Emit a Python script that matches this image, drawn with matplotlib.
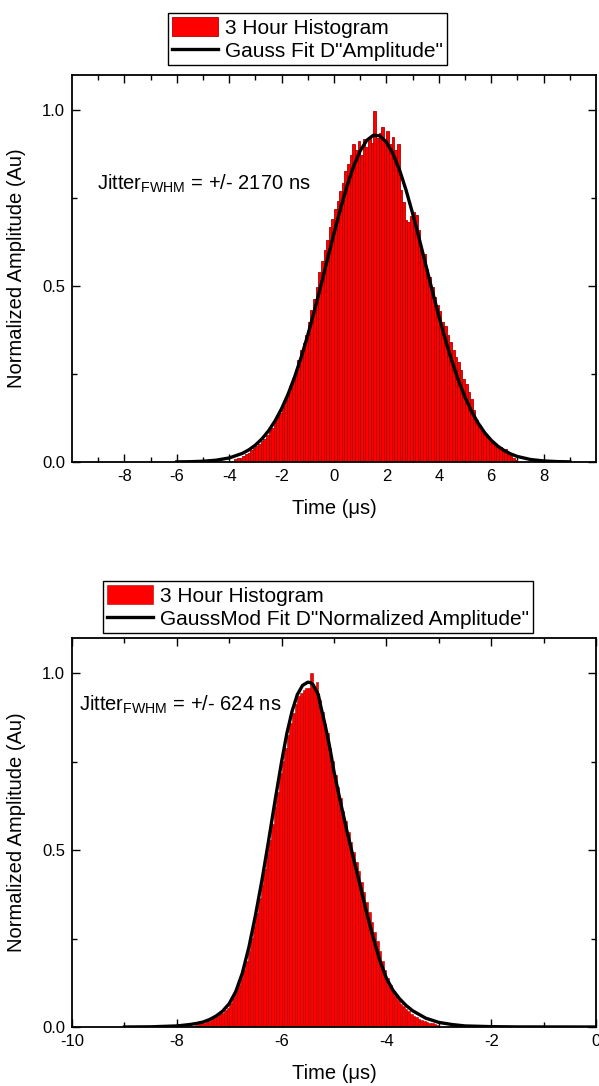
import matplotlib
matplotlib.use('Agg')
import matplotlib.pyplot as plt
import numpy as np

plt.rcParams['font.family'] = ['Liberation Sans', 'DejaVu Sans']
plt.rcParams['mathtext.fontset'] = 'custom'
plt.rcParams['mathtext.rm'] = 'Liberation Sans'
plt.rcParams['mathtext.it'] = 'Liberation Sans'
plt.rcParams['axes.unicode_minus'] = False

# ---- top panel: 3 hour histogram, 0.1 us bins from -3.8 to 7.0 us
top_bin_width = 0.1
top_bin_start = -3.8
top_counts = [
    0.008, 0.012, 0.010, 0.018, 0.022, 0.026, 0.035, 0.041, 0.046, 0.052,
    0.060, 0.066, 0.078, 0.090, 0.098, 0.112, 0.128, 0.138, 0.161, 0.176,
    0.196, 0.215, 0.238, 0.262, 0.290, 0.318, 0.338, 0.362, 0.398, 0.432,
    0.462, 0.498, 0.540, 0.572, 0.603, 0.632, 0.668, 0.690, 0.720, 0.742,
    0.770, 0.792, 0.826, 0.848, 0.872, 0.905, 0.886, 0.912, 0.874, 0.918,
    0.896, 0.925, 0.908, 0.998, 0.922, 0.935, 0.951, 0.918, 0.940, 0.905,
    0.925, 0.888, 0.905, 0.772, 0.738, 0.688, 0.682, 0.700, 0.712, 0.702,
    0.660, 0.602, 0.590, 0.548, 0.525, 0.498, 0.470, 0.445, 0.428, 0.398,
    0.386, 0.362, 0.340, 0.318, 0.298, 0.284, 0.262, 0.235, 0.222, 0.200,
    0.178, 0.148, 0.120, 0.104, 0.092, 0.082, 0.074, 0.066, 0.058, 0.050,
    0.046, 0.042, 0.036, 0.038, 0.022, 0.016, 0.010, 0.006,
]
# gauss fit curve
top_fit_x = [-6.0, -5.5, -5.0, -4.5, -4.0, -3.5, -3.25, -3.0, -2.75, -2.5, -2.25,
             -2.0, -1.75, -1.5, -1.25, -1.0, -0.75, -0.5, -0.25, 0.0, 0.25,
             0.5, 0.75, 1.0, 1.25, 1.5, 1.75, 2.0, 2.25, 2.5, 2.75, 3.0, 3.25,
             3.5, 3.75, 4.0, 4.25, 4.5, 4.75, 5.0, 5.25, 5.5, 5.75, 6.0, 6.25,
             6.5, 6.75, 7.0, 7.5, 8.0, 8.5, 9.0]
top_fit_y = [0.0003, 0.0008, 0.0021, 0.0051, 0.0115, 0.0244, 0.0345, 0.0481, 0.0658, 0.0884, 0.1168,
             0.1516, 0.1933, 0.2423, 0.2983, 0.3610, 0.4293, 0.5016, 0.5760, 0.6500, 0.7207,
             0.7853, 0.8406, 0.8843, 0.9142, 0.9287, 0.9271, 0.9093, 0.8765, 0.8303, 0.7729, 0.7068, 0.6354,
             0.5611, 0.4869, 0.4153, 0.3480, 0.2865, 0.2319, 0.1844, 0.1441, 0.1107, 0.0835, 0.0619, 0.0451,
             0.0323, 0.0227, 0.0157, 0.0071, 0.0030, 0.0012, 0.0004]

# ---- bottom panel: 0.05 us bins from -7.7 to -3.0 us
bot_bin_width = 0.05
bot_bin_start = -7.7
bot_counts = [
    0.004, 0.006, 0.009, 0.010, 0.012, 0.016, 0.018, 0.022, 0.026, 0.030,
    0.036, 0.040, 0.048, 0.055, 0.068, 0.082, 0.098, 0.118, 0.135, 0.160,
    0.188, 0.215, 0.252, 0.285, 0.322, 0.365, 0.402, 0.446, 0.488, 0.530,
    0.575, 0.622, 0.665, 0.718, 0.752, 0.790, 0.826, 0.860, 0.888, 0.912,
    0.935, 0.945, 0.952, 0.960, 0.960, 1.000, 0.955, 0.975, 0.925, 0.892,
    0.858, 0.830, 0.790, 0.752, 0.712, 0.680, 0.648, 0.612, 0.582, 0.552,
    0.522, 0.496, 0.466, 0.440, 0.410, 0.382, 0.354, 0.326, 0.298, 0.270,
    0.244, 0.216, 0.188, 0.162, 0.138, 0.118, 0.100, 0.088, 0.076, 0.066,
    0.058, 0.050, 0.044, 0.038, 0.032, 0.028, 0.024, 0.020, 0.017, 0.014,
    0.012, 0.010, 0.008, 0.006,
]
bot_fit_x = [-9.0, -8.5, -8.0, -7.75, -7.625, -7.5, -7.375, -7.25, -7.125, -7.0,
             -6.875, -6.75, -6.625, -6.5, -6.375, -6.25, -6.125, -6.0, -5.9,
             -5.8, -5.7, -5.6, -5.5, -5.45, -5.4, -5.3, -5.25, -5.175, -5.1,
             -5.05, -5.0, -4.875, -4.75, -4.625, -4.5, -4.375, -4.25, -4.125,
             -4.0, -3.875, -3.75, -3.625, -3.5, -3.25, -3.0, -2.75, -2.5,
             -2.0, -1.5, 0.0]
bot_fit_y = [0.0, 0.0005, 0.003, 0.007, 0.010, 0.014, 0.021, 0.031, 0.045, 0.066,
             0.100, 0.152, 0.225, 0.315, 0.415, 0.525, 0.640, 0.750, 0.830,
             0.893, 0.940, 0.966, 0.975, 0.974, 0.968, 0.940, 0.905, 0.858, 0.805,
             0.765, 0.722, 0.635, 0.552, 0.475, 0.400, 0.322, 0.252, 0.188,
             0.138, 0.104, 0.080, 0.061, 0.046, 0.025, 0.013, 0.007, 0.003,
             0.001, 0.0002, 0.0]

bar_face = '#ff0000'
bar_edge = '#b00000'

fig = plt.figure(figsize=(5.99, 10.86), dpi=100)
ax1 = fig.add_axes([72/599, 1 - 462/1086, 524/599, 387/1086])
ax2 = fig.add_axes([72/599, 1 - 1027/1086, 524/599, 389/1086])


def style_axes(ax, xlim):
    ax.set_xlim(*xlim)
    ax.set_ylim(0, 1.1)
    ax.set_yticks([0.0, 0.5, 1.0])
    ax.set_yticks([0.25, 0.75], minor=True)
    ax.set_yticklabels(['0.0', '0.5', '1.0'])
    ax.tick_params(which='both', direction='in', top=True, right=True,
                   labelsize=12, width=1.0, pad=5)
    ax.tick_params(which='major', length=6)
    ax.tick_params(which='minor', length=3.5)
    for s in ax.spines.values():
        s.set_linewidth(1.3)
    ax.set_xlabel('Time (\u03bcs)', fontsize=14.5)
    ax.set_ylabel('Normalized Amplitude (Au)', fontsize=14.5)
    ax.xaxis.set_label_coords(0.5, -0.095)
    ax.yaxis.set_label_coords(-0.088, 0.5)


def add_legend(ax, anchor):
    h, l = ax.get_legend_handles_labels()
    order = [1, 0]  # histogram first
    fig.legend([h[i] for i in order], [l[i] for i in order], loc='upper left',
               bbox_to_anchor=anchor, fontsize=15,
               frameon=True, fancybox=False, edgecolor='black', framealpha=1,
               borderpad=0.2, labelspacing=0.12, handlelength=2.2,
               handleheight=1.05, handletextpad=0.35, borderaxespad=0)


# top
top_centers = top_bin_start + top_bin_width * (np.arange(len(top_counts)) + 0.5)
ax1.bar(top_centers, top_counts, width=top_bin_width, color=bar_face,
        edgecolor=bar_edge, linewidth=0.6, label='3 Hour Histogram', zorder=2)
ax1.plot(top_fit_x, top_fit_y, color='black', lw=2.4,
         label='Gauss Fit D"Amplitude"', zorder=3)
style_axes(ax1, (-10, 10))
ax1.set_xticks([-8, -6, -4, -2, 0, 2, 4, 6, 8])
ax1.set_xticks(np.arange(-9, 10, 1), minor=True)
ax1.text(-9.05, 0.79, r'Jitter$_{\mathrm{FWHM}}$ = +/- 2170 ns', fontsize=14.5,
         va='center', ha='left')
add_legend(ax1, (168/599, 1 - 13/1086))

# bottom
bot_centers = bot_bin_start + bot_bin_width * (np.arange(len(bot_counts)) + 0.5)
ax2.bar(bot_centers, bot_counts, width=bot_bin_width, color=bar_face,
        edgecolor=bar_edge, linewidth=0.4, label='3 Hour Histogram', zorder=2)
ax2.plot(bot_fit_x, bot_fit_y, color='black', lw=2.4,
         label='GaussMod Fit D"Normalized Amplitude"', zorder=3)
style_axes(ax2, (-10, 0))
ax2.set_xticks([-10, -8, -6, -4, -2, 0])
ax2.set_xticks(np.arange(-9, 0, 1), minor=True)
ax2.text(-9.87, 0.912, r'Jitter$_{\mathrm{FWHM}}$ = +/- 624 ns', fontsize=14.5,
         va='center', ha='left')
add_legend(ax2, (103/599, 1 - 581/1086))

fig.savefig('out.png', dpi=100)
